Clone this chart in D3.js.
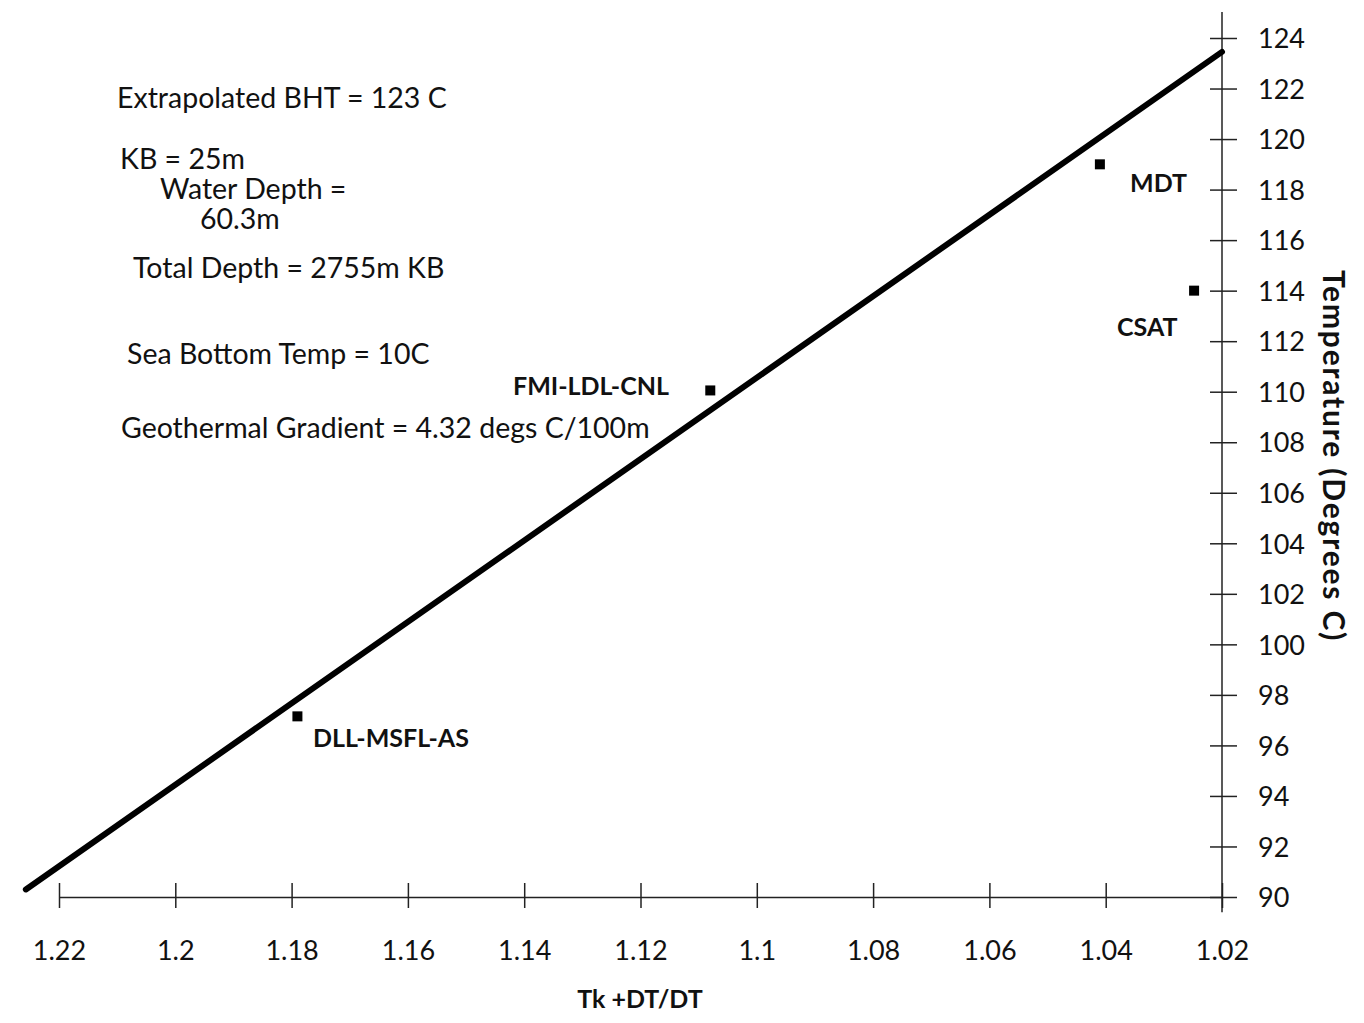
<!DOCTYPE html>
<html>
<head>
<meta charset="utf-8">
<script src="https://cdn.jsdelivr.net/npm/d3@7"></script>
<style>
  body { margin: 0; background: #fff; }
  text { font-family: Lato, "Noto Sans", sans-serif; fill: #111; }
  .note { font-size: 28.5px; }
  .lbl { font-size: 25px; font-weight: bold; }
  .tick text { font-size: 27px; }
</style>
</head>
<body>
<svg id="fig"></svg>
<script>
var W = 1364, H = 1023;

// data
var xTicks = [1.22, 1.2, 1.18, 1.16, 1.14, 1.12, 1.1, 1.08, 1.06, 1.04, 1.02];
var yTicks = [90, 92, 94, 96, 98, 100, 102, 104, 106, 108, 110, 112, 114, 116, 118, 120, 122, 124];
var ptNames = ["MDT", "CSAT", "FMI-LDL-CNL", "DLL-MSFL-AS"];
var ptX = [1.041, 1.0248, 1.108, 1.179];
var ptY = [119.0, 114.0, 110.05, 97.15];
var fitX = [1.2257, 1.02]; // extrapolation line
var fitY = [90.3, 123.45];
var notes = ["Extrapolated BHT = 123 C", "KB = 25m", "Water Depth =", "60.3m",
             "Total Depth = 2755m KB", "Sea Bottom Temp = 10C",
             "Geothermal Gradient = 4.32 degs C/100m"];

var x = d3.scaleLinear().domain([1.22, 1.02]).range([59, 1222]);
var y = d3.scaleLinear().domain([90, 124]).range([897, 38]);

var svg = d3.select("#fig").attr("width", W).attr("height", H);

// x axis, ticks cross the line
var gx = svg.append("g").attr("transform", "translate(0," + y(90) + ")")
  .call(d3.axisBottom(x).tickValues(xTicks).tickSize(11).tickSizeOuter(0)
        .tickFormat(function(d) { return d3.format("")(+d.toFixed(2)); }));
gx.select(".domain").attr("stroke", "#222").attr("stroke-width", 1.5);
gx.selectAll(".tick line").attr("y1", -14).attr("stroke", "#222").attr("stroke-width", 1.5);
gx.selectAll(".tick text").attr("y", 63).attr("dy", 0).attr("fill", "#111");

// y axis on the right
var gy = svg.append("g").attr("transform", "translate(" + x(1.02) + ",0)")
  .call(d3.axisRight(y).tickValues(yTicks).tickSize(15).tickSizeOuter(0));
gy.select(".domain").remove();
gy.append("line").attr("x1", 0).attr("x2", 0)
  .attr("y1", y(125.03)).attr("y2", y(89.4))
  .attr("stroke", "#222").attr("stroke-width", 1.5);
gy.selectAll(".tick line").attr("x1", -12).attr("stroke", "#222").attr("stroke-width", 1.5);
gy.selectAll(".tick text").attr("x", 36).attr("dy", "0.36em").attr("fill", "#111");

// axis titles
svg.append("text").attr("class", "lbl")
  .attr("x", 640).attr("y", 1008).attr("text-anchor", "middle")
  .text("Tk +DT/DT");
svg.append("text").attr("class", "lbl")
  .attr("transform", "translate(1323,456) rotate(90)")
  .attr("text-anchor", "middle")
  .style("font-size", "30px").style("letter-spacing", "1.8px")
  .text("Temperature (Degrees C)");

// extrapolated line
var line = d3.line().x(function(d) { return x(d[0]); }).y(function(d) { return y(d[1]); });
svg.append("path").datum(d3.zip(fitX, fitY))
  .attr("d", line).attr("fill", "none").attr("stroke", "#000")
  .attr("stroke-width", 6).attr("stroke-linecap", "round");

// measured points
var pts = d3.range(ptNames.length);
svg.selectAll("rect.pt").data(pts).enter().append("rect")
  .attr("class", "pt")
  .attr("x", function(i) { return x(ptX[i]) - 5; })
  .attr("y", function(i) { return y(ptY[i]) - 5; })
  .attr("width", 10).attr("height", 10).attr("fill", "#000");

var lblPos = [[1130, 192], [1117, 336], [513, 395], [313, 747]];
svg.selectAll("text.pl").data(pts).enter().append("text")
  .attr("class", "lbl pl")
  .attr("x", function(i) { return lblPos[i][0]; })
  .attr("y", function(i) { return lblPos[i][1]; })
  .text(function(i) { return ptNames[i]; });

// annotation block
var notePos = [[117, 108], [120, 169], [160, 199], [200, 229], [133, 278], [127, 364], [121, 438]];
svg.selectAll("text.note").data(notes).enter().append("text")
  .attr("class", "note")
  .attr("x", function(d, i) { return notePos[i][0]; })
  .attr("y", function(d, i) { return notePos[i][1]; })
  .text(function(d) { return d; });
</script>
</body>
</html>
